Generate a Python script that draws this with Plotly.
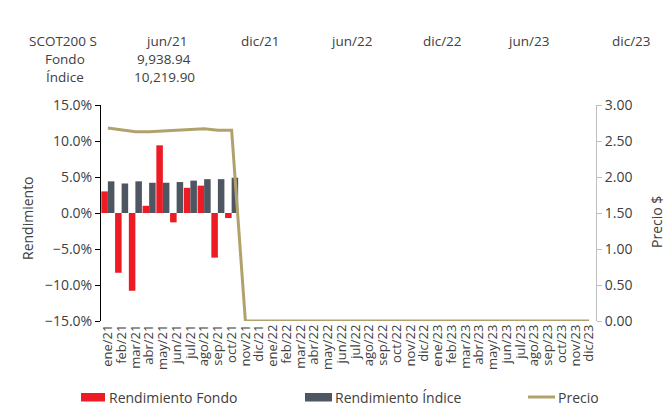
import plotly.graph_objects as go

# ---------------- data ----------------
months = ["ene/21", "feb/21", "mar/21", "abr/21", "may/21", "jun/21", "jul/21", "ago/21",
          "sep/21", "oct/21", "nov/21", "dic/21",
          "ene/22", "feb/22", "mar/22", "abr/22", "may/22", "jun/22", "jul/22", "ago/22",
          "sep/22", "oct/22", "nov/22", "dic/22",
          "ene/23", "feb/23", "mar/23", "abr/23", "may/23", "jun/23", "jul/23", "ago/23",
          "sep/23", "oct/23", "nov/23", "dic/23"]
ret_months = ["ene/21", "feb/21", "mar/21", "abr/21", "may/21", "jun/21", "jul/21", "ago/21",
              "sep/21", "oct/21"]
rend_fondo = [3.0, -8.3, -10.8, 1.0, 9.4, -1.3, 3.5, 3.8, -6.2, -0.7]
rend_indice = [4.4, 4.1, 4.4, 4.2, 4.2, 4.3, 4.5, 4.7, 4.7, 4.9]
precio = [2.68, 2.66, 2.63, 2.63, 2.64, 2.65, 2.65, 2.67, 2.65, 2.65,
          0, 0, 0, 0, 0, 0, 0, 0, 0, 0, 0, 0, 0, 0, 0, 0, 0, 0, 0, 0, 0, 0, 0, 0, 0, 0]

header_label = "SCOT200 S"
header_dates = ["jun/21", "dic/21", "jun/22", "dic/22", "jun/23", "dic/23"]
row_labels = ["Fondo", "Índice"]
row_values = ["9,938.94", "10,219.90"]

legend_names = ["Rendimiento Fondo", "Rendimiento Índice", "Precio"]

# ---------------- style ----------------
W, H = 670, 406
L, R, T, B = 101, 74, 105, 85
PW, PH = W - L - R, H - T - B
FONT = "Open Sans"
TXT = "#404040"
RED = "#ED1C24"
GREY = "#4E5662"
GOLD = "#B1A26C"


def fx(p):
    return (p - L) / PW


def fy(p):
    return (H - B - p) / PH


fig = go.Figure()
fig.add_trace(go.Bar(x=ret_months, y=rend_fondo, name=legend_names[0],
                     marker=dict(color=RED, line=dict(width=0)), showlegend=False))
fig.add_trace(go.Bar(x=ret_months, y=rend_indice, name=legend_names[1],
                     marker=dict(color=GREY, line=dict(width=0)), showlegend=False))
fig.add_trace(go.Scatter(x=months, y=precio, name=legend_names[2], yaxis="y2", mode="lines",
                         line=dict(color=GOLD, width=3), showlegend=False))

zero_axis = dict(overlaying="x", anchor="free", position=0.5, type="linear",
                 range=[-0.5, len(months) - 0.5], tickmode="linear", tick0=-0.5, dtick=1,
                 ticklen=4, tickcolor="black", tickwidth=1, showline=True, linecolor="black",
                 linewidth=1, showticklabels=False, showgrid=False, zeroline=False)

fig.update_layout(
    width=W, height=H,
    margin=dict(l=L, r=R, t=T, b=B, autoexpand=False),
    paper_bgcolor="white", plot_bgcolor="white",
    font=dict(family=FONT, size=14, color=TXT),
    barmode="group", bargap=0.05, bargroupgap=0,
    showlegend=False,
    xaxis=dict(type="category", categoryorder="array", categoryarray=months,
               range=[-0.5, len(months) - 0.5], tickmode="linear", tick0=0, dtick=1,
               tickangle=-90, ticks="", showline=False,
               showgrid=False, zeroline=False, tickfont=dict(size=13, color=TXT),
               automargin=False),
    xaxis2=dict(zero_axis, ticks="outside"),
    xaxis3=dict(zero_axis, ticks="inside"),
    yaxis=dict(range=[-15, 15], dtick=5, tickformat=".1f", ticksuffix="%",
               showline=True, linecolor="black", linewidth=1, ticks="outside", ticklen=5,
               tickcolor="black", showgrid=False, zeroline=False,
               tickfont=dict(size=14, color=TXT), automargin=False),
    yaxis2=dict(overlaying="y", side="right", range=[0, 3], dtick=0.5, tickformat=".2f",
                showline=True, linecolor="#BFBFBF", linewidth=1, ticks="outside", ticklen=5,
                tickcolor="#BFBFBF", showgrid=False, zeroline=False,
                tickfont=dict(size=14, color=TXT), automargin=False),
)

ann = []
# axis titles
ann.append(dict(text="Rendimiento", x=fx(27), y=fy(218), textangle=-90, size=14))
ann.append(dict(text="Precio $", x=fx(656), y=fy(222), textangle=-90, size=14))
# header table
ann.append(dict(text=header_label, x=fx(63), y=fy(41), size=13.5))
hx = [166, 260, 351, 442, 528, 631]
for d, xx in zip(header_dates, hx):
    ann.append(dict(text=d, x=fx(xx), y=fy(41), size=13.5))
for i, (lab, val) in enumerate(zip(row_labels, row_values)):
    yy = 59 + i * 18
    ann.append(dict(text=lab, x=fx(65), y=fy(yy), size=13.5))
    ann.append(dict(text=val, x=fx(164), y=fy(yy), size=13.5))
# legend texts
for name, xx in zip(legend_names, [107, 333, 556]):
    ann.append(dict(text=name, x=fx(xx), y=fy(397), xanchor="left", size=14))

for a in ann:
    a.setdefault("xanchor", "center")
    size = a.pop("size")
    fig.add_annotation(xref="paper", yref="paper", yanchor="middle", showarrow=False,
                       font=dict(family=FONT, size=size, color=TXT), **a)

# legend symbols
fig.add_shape(type="rect", xref="paper", yref="paper", x0=fx(81), x1=fx(105),
              y0=fy(401.5), y1=fy(393), fillcolor=RED, line=dict(width=0))
fig.add_shape(type="rect", xref="paper", yref="paper", x0=fx(305), x1=fx(332),
              y0=fy(401.5), y1=fy(393), fillcolor=GREY, line=dict(width=0))
fig.add_shape(type="line", xref="paper", yref="paper", x0=fx(528), x1=fx(555),
              y0=fy(397), y1=fy(397), line=dict(color=GOLD, width=3))

fig.write_html("out.html", config={"displayModeBar": False},
               post_script="document.body.style.margin='0';document.body.style.overflow='hidden';")
